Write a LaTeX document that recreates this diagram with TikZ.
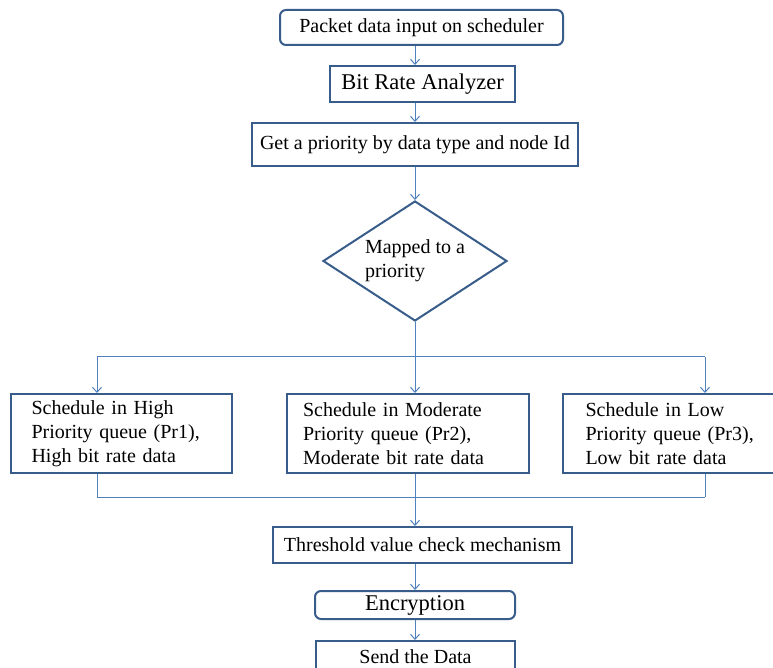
\documentclass[tikz,border=0pt]{standalone}
\usepackage{fontspec}
\setmainfont{Liberation Serif}
\usetikzlibrary{shapes.geometric,arrows.meta}
\definecolor{boxEdge}{RGB}{56,93,138}
\definecolor{flowLine}{RGB}{79,129,189}

\tikzset{
  stepbox/.style={draw=boxEdge,line width=2pt,fill=white,inner sep=2pt,font=\fontsize{20}{24}\selectfont},
  roundbox/.style={stepbox,rounded corners=6pt},
  decide/.style={draw=boxEdge,line width=2pt,diamond,aspect=1.53,fill=white,align=left,font=\fontsize{20}{24}\selectfont},
  queuebox/.style={stepbox,minimum width=221pt,minimum height=79pt,align=left},
  flow/.style={flowLine,line width=1pt,-{Straight Barb[length=5pt,width=9pt]}},
  link/.style={flowLine,line width=1pt}
}

\begin{document}
\begin{tikzpicture}[x=1pt,y=1pt]
  \useasboundingbox (0,0) rectangle (773,667);
  \clip (0,0) rectangle (773,667);
  \fill[white] (0,0) rectangle (773,667);

  % top of the chain
  \node[roundbox,minimum width=283pt,minimum height=35pt] (pkt) at (421.5,639.5) {Packet data input on scheduler};
  \node[stepbox,minimum width=185pt,minimum height=36pt,font=\fontsize{22.5}{24}\selectfont] (bra) at (422.5,583) {Bit Rate Analyzer};
  \node[stepbox,minimum width=326pt,minimum height=43pt] (getp) at (415,522.5) {Get a priority by data type and node Id};

  % decision
  \node[decide,minimum width=184pt,minimum height=120pt,inner sep=0pt] (dia) at (415,406) {Mapped to a\\priority};

  % queues
  \node[queuebox,text width=180pt] (high) at (121.5,233.5) {Schedule in High\\Priority queue (Pr1),\\High bit rate data};
  \node[queuebox,minimum width=242pt,text width=210pt] (mod) at (408,233.5) {Schedule in Moderate\\Priority queue (Pr2),\\Moderate bit rate data};
  \node[queuebox,minimum width=217pt,text width=172pt] (low) at (671.5,233.5) {Schedule in Low\\Priority queue (Pr3),\\Low bit rate data};

  % bottom of the chain
  \node[stepbox,minimum width=299pt,minimum height=36pt] (thr) at (422.5,122) {Threshold value check mechanism};
  \node[roundbox,minimum width=200pt,minimum height=28pt,font=\fontsize{22.5}{24}\selectfont] (enc) at (415,62) {Encryption};
  \node[stepbox,minimum width=199pt,minimum height=32pt] (send) at (415.5,10) {Send the Data};

  % split and merge points
  \coordinate (split) at (415,310);
  \coordinate (splitL) at (97,310);
  \coordinate (splitR) at (705,310);
  \coordinate (merge) at (415,170);
  \coordinate (mergeL) at (97,170);
  \coordinate (mergeR) at (705,170);

  % arrows
  \draw[flow] (pkt.south -| dia.north) -- (bra.north -| dia.north);
  \draw[flow] (bra.south -| dia.north) -- (getp.north -| dia.north);
  \draw[flow] (getp.south -| dia.north) -- (dia.north);
  \draw[link] (dia.south) -- (split);
  \draw[link] (splitL) -- (splitR);
  \draw[flow] (splitL) -- (splitL |- high.north);
  \draw[flow] (split) -- (split |- mod.north);
  \draw[flow] (splitR) -- (splitR |- low.north);
  \draw[link] (mergeL |- high.south) -- (mergeL);
  \draw[link] (merge |- mod.south) -- (merge);
  \draw[link] (mergeR |- low.south) -- (mergeR);
  \draw[link] (mergeL) -- (mergeR);
  \draw[flow] (merge) -- (merge |- thr.north);
  \draw[flow] (thr.south -| merge) -- (enc.north -| merge);
  \draw[flow] (enc.south -| merge) -- (send.north -| merge);
\end{tikzpicture}
\end{document}
